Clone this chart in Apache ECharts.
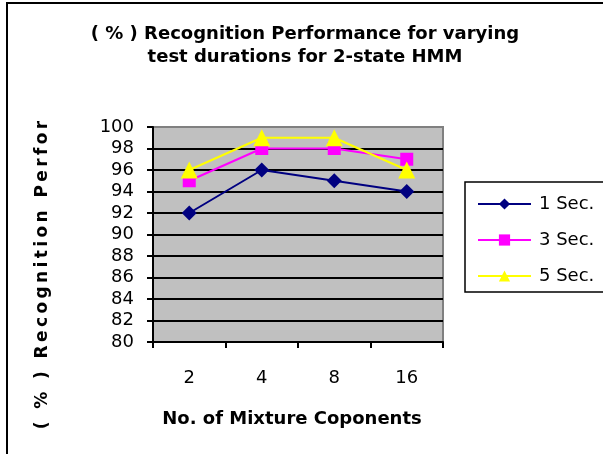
<!DOCTYPE html>
<html>
<head>
<meta charset="utf-8">
<script src="https://cdn.jsdelivr.net/npm/echarts@6/dist/echarts.min.js"></script>
<style>
  html, body { margin: 0; padding: 0; background: #fff; }
  #chart { width: 603px; height: 454px; }
</style>
</head>
<body>
<div id="chart"></div>
<script>
// Number of Gaussian mixture components tested
const components = ['2', '4', '8', '16'];

// Recognition rate (%) per test duration
const sec1 = [92, 96, 95, 94];
const sec3 = [95, 98, 98, 97];
const sec5 = [96, 99, 99, 96];

const seriesNames = ['1 Sec.', '3 Sec.', '5 Sec.'];
const yTicks = { min: 80, max: 100, step: 2 };

const FONT = '"DejaVu Sans", sans-serif';

// spread the letters of the vertical axis title
const spaced = s => s.split('').join('\u2009');

const chart = echarts.init(document.getElementById('chart'), null, { renderer: 'canvas' });

const mkSeries = (name, data, color, symbol, size) => ({
  name, type: 'line', data,
  symbol, symbolSize: size,
  itemStyle: { color },
  lineStyle: { color, width: 2 },
  emphasis: { disabled: true },
  animation: false
});

chart.setOption({
  animation: false,
  backgroundColor: '#ffffff',
  title: {
    text: '( % ) Recognition Performance for varying\ntest durations for 2-state HMM',
    left: 300, top: 18, textAlign: 'center',
    textStyle: { fontFamily: FONT, fontWeight: 'bold', fontSize: 18, lineHeight: 23, color: '#000' }
  },
  grid: {
    left: 153, top: 127, right: 160, bottom: 112,
    show: true, backgroundColor: '#c0c0c0', borderColor: '#808080', borderWidth: 2
  },
  legend: {
    orient: 'vertical', left: 477, top: 195,
    itemWidth: 53, itemHeight: 14, itemGap: 18,
    padding: 0,
    textStyle: { fontFamily: FONT, fontSize: 18, color: '#000', padding: [0, 0, 0, 3] },
    data: seriesNames
  },
  xAxis: {
    type: 'category', data: components, boundaryGap: true,
    axisLine: { lineStyle: { color: '#000', width: 2 } },
    axisTick: { show: true, length: 6, lineStyle: { color: '#000', width: 2 } },
    axisLabel: { fontFamily: FONT, fontSize: 18, color: '#000', margin: 27 },
    name: 'No. of Mixture Coponents', nameLocation: 'middle', nameGap: 68,
    nameTextStyle: { fontFamily: FONT, fontWeight: 'bold', fontSize: 18, color: '#000', padding: [0, 12, 0, 0] }
  },
  yAxis: {
    type: 'value', min: yTicks.min, max: yTicks.max, interval: yTicks.step,
    axisLine: { show: true, lineStyle: { color: '#000', width: 2 } },
    axisTick: { show: true, length: 6, lineStyle: { color: '#000', width: 2 } },
    axisLabel: { fontFamily: FONT, fontSize: 18, color: '#000', margin: 19 },
    splitLine: { show: true, showMaxLine: false, lineStyle: { color: '#000', width: 2 } }
  },
  graphic: [
    {
      type: 'rect', silent: true, z: 100,
      shape: { x: 7, y: 3, width: 640, height: 500 },
      style: { fill: null, stroke: '#000', lineWidth: 2 }
    },
    {
      type: 'rect', silent: true, z: 100,
      shape: { x: 465, y: 182, width: 200, height: 110 },
      style: { fill: null, stroke: '#000', lineWidth: 1.5 }
    },
    {
      type: 'text', silent: true, z: 100,
      x: 43, y: 275, rotation: Math.PI / 2,
      style: {
        text: spaced('( % ) Recognition Perfor'),
        fontFamily: FONT, fontWeight: 'bold', fontSize: 17, fill: '#000',
        align: 'center', verticalAlign: 'middle'
      }
    }
  ],
  series: [
    mkSeries(seriesNames[0], sec1, '#000080', 'diamond', 15),
    mkSeries(seriesNames[1], sec3, '#ff00ff', 'rect', 13),
    mkSeries(seriesNames[2], sec5, '#ffff00', 'triangle', 17)
  ]
});
</script>
</body>
</html>
